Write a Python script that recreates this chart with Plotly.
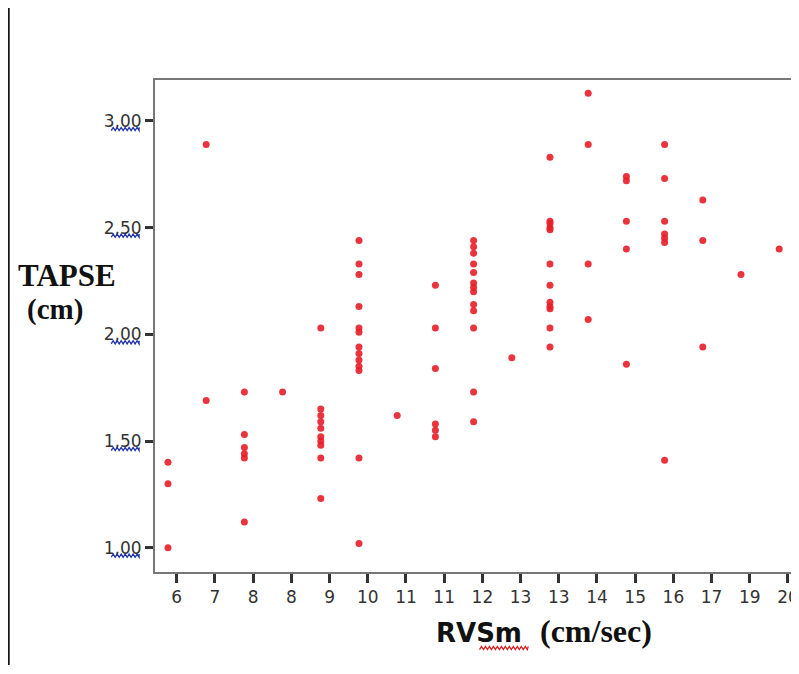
import plotly.graph_objects as go

# Tick labels of the RVSm axis (as printed, one per column of points)
rvsm_labels = ["6", "7", "8", "8", "9", "10", "11", "11", "12", "13", "13",
               "14", "15", "16", "17", "19", "20"]

# TAPSE values (cm) read for each RVSm column
tapse_c00 = [1.40, 1.30, 1.00]
tapse_c01 = [2.89, 1.69]
tapse_c02 = [1.73, 1.53, 1.47, 1.44, 1.42, 1.12]
tapse_c03 = [1.73]
tapse_c04 = [2.03, 1.65, 1.62, 1.59, 1.56, 1.52, 1.50, 1.48, 1.42, 1.23]
tapse_c05 = [2.44, 2.33, 2.28, 2.13, 2.03, 2.01, 1.94, 1.91, 1.88, 1.85, 1.83, 1.42, 1.02]
tapse_c06 = [1.62]
tapse_c07 = [2.23, 2.03, 1.84, 1.58, 1.55, 1.52]
tapse_c08 = [2.44, 2.41, 2.38, 2.33, 2.29, 2.24, 2.22, 2.20, 2.14, 2.11, 2.03, 1.73, 1.59]
tapse_c09 = [1.89]
tapse_c10 = [2.83, 2.53, 2.52, 2.50, 2.49, 2.33, 2.23, 2.15, 2.13, 2.12, 2.03, 1.94]
tapse_c11 = [3.13, 2.89, 2.33, 2.07]
tapse_c12 = [2.74, 2.72, 2.53, 2.40, 1.86]
tapse_c13 = [2.89, 2.73, 2.53, 2.47, 2.45, 2.43, 1.41]
tapse_c14 = [2.63, 2.44, 1.94]
tapse_c15 = [2.28]
tapse_c16 = [2.40]

y_tickvals = [1.0, 1.5, 2.0, 2.5, 3.0]
y_ticktext = ["1,00", "1,50", "2,00", "2,50", "3,00"]

columns = [tapse_c00, tapse_c01, tapse_c02, tapse_c03, tapse_c04, tapse_c05,
           tapse_c06, tapse_c07, tapse_c08, tapse_c09, tapse_c10, tapse_c11,
           tapse_c12, tapse_c13, tapse_c14, tapse_c15, tapse_c16]

xs, ys = [], []
for i, col in enumerate(columns):
    for v in col:
        xs.append(i)
        ys.append(v)

OFF = 8  # browser body margin
W, H = 799 - OFF, 674 - OFF
PLOT_L, PLOT_T, PLOT_B = 155, 80, 572  # in page pixels
ML = PLOT_L - OFF
MT = PLOT_T - OFF
MB = H - (PLOT_B - OFF)
MR = 0
PW = W - ML - MR
PH = H - MT - MB
XR = [-0.34, 16.44]
YR = [0.886, 3.192]


def px_to_paper_x(px):
    return (px - OFF - ML) / PW


def px_to_paper_y(py):
    return (H - MB - (py - OFF)) / PH


def wavy_path(x0, x1, yc, amp=1.6, period=4.0):
    pts = []
    n = int((x1 - x0) / (period / 2)) + 1
    for k in range(n + 1):
        px = min(x0 + k * (period / 2), x1)
        py = yc + (amp if k % 2 == 0 else -amp)
        pts.append((px_to_paper_x(px), px_to_paper_y(py)))
    return "M " + " L ".join(f"{a:.5f},{b:.5f}" for a, b in pts)


fig = go.Figure()
fig.add_trace(go.Scatter(
    x=xs, y=ys, mode="markers",
    marker=dict(symbol="circle", size=7, color="rgba(232,30,40,0.9)",
                line=dict(width=0)),
    showlegend=False, hoverinfo="y",
))

shapes = []
# left vertical black rule
shapes.append(dict(type="line", xref="paper", yref="paper",
                   x0=px_to_paper_x(8), x1=px_to_paper_x(8),
                   y0=px_to_paper_y(8), y1=px_to_paper_y(665),
                   line=dict(color="#111", width=2)))
# blue wavy underlines under y tick decimals
y_scale = PH / (YR[1] - YR[0])
for v in y_tickvals:
    py = PLOT_T + (YR[1] - v) * y_scale + 8
    shapes.append(dict(type="path", xref="paper", yref="paper",
                       path=wavy_path(111, 139, py),
                       line=dict(color="#2233aa", width=1.3)))
# red wavy underline under "Sm"
shapes.append(dict(type="path", xref="paper", yref="paper",
                   path=wavy_path(481, 530, 648),
                   line=dict(color="#dd2222", width=1.3)))

annotations = [
    dict(text="<b>TAPSE</b>", xref="paper", yref="paper",
         x=px_to_paper_x(67), y=px_to_paper_y(275), showarrow=False,
         xanchor="center", yanchor="middle",
         font=dict(family="Liberation Serif", size=31, color="#111")),
    dict(text="<b>(cm)</b>", xref="paper", yref="paper",
         x=px_to_paper_x(55), y=px_to_paper_y(309), showarrow=False,
         xanchor="center", yanchor="middle",
         font=dict(family="Liberation Serif", size=29, color="#111")),
    dict(text="<b>RVSm</b>", xref="paper", yref="paper",
         x=px_to_paper_x(435), y=px_to_paper_y(633), showarrow=False,
         xanchor="left", yanchor="middle",
         font=dict(family="DejaVu Sans", size=26, color="#111")),
    dict(text="<b>(cm/sec)</b>", xref="paper", yref="paper",
         x=px_to_paper_x(540), y=px_to_paper_y(631), showarrow=False,
         xanchor="left", yanchor="middle",
         font=dict(family="Liberation Serif", size=32, color="#111")),
]

fig.update_layout(
    width=W, height=H, autosize=False,
    margin=dict(l=ML, r=MR, t=MT, b=MB, pad=0),
    paper_bgcolor="white", plot_bgcolor="white",
    shapes=shapes, annotations=annotations,
    xaxis=dict(
        range=XR, showgrid=False, zeroline=False,
        tickmode="array",
        tickvals=[i + 0.23 for i in range(len(rvsm_labels))],
        ticktext=rvsm_labels,
        ticklabeloverflow="allow",
        ticks="outside", ticklen=9, tickwidth=2.5, tickcolor="#333",
        showline=True, linecolor="#777", linewidth=2, mirror=True,
        tickfont=dict(family="DejaVu Sans", size=17, color="#333"),
    ),
    yaxis=dict(
        range=YR, showgrid=False, zeroline=False,
        tickmode="array", tickvals=y_tickvals, ticktext=y_ticktext,
        ticks="outside", ticklen=8, tickwidth=2.5, tickcolor="#333",
        showline=True, linecolor="#777", linewidth=2,
        tickfont=dict(family="DejaVu Sans", size=17, color="#333"),
    ),
)

fig.write_html("out.html")
